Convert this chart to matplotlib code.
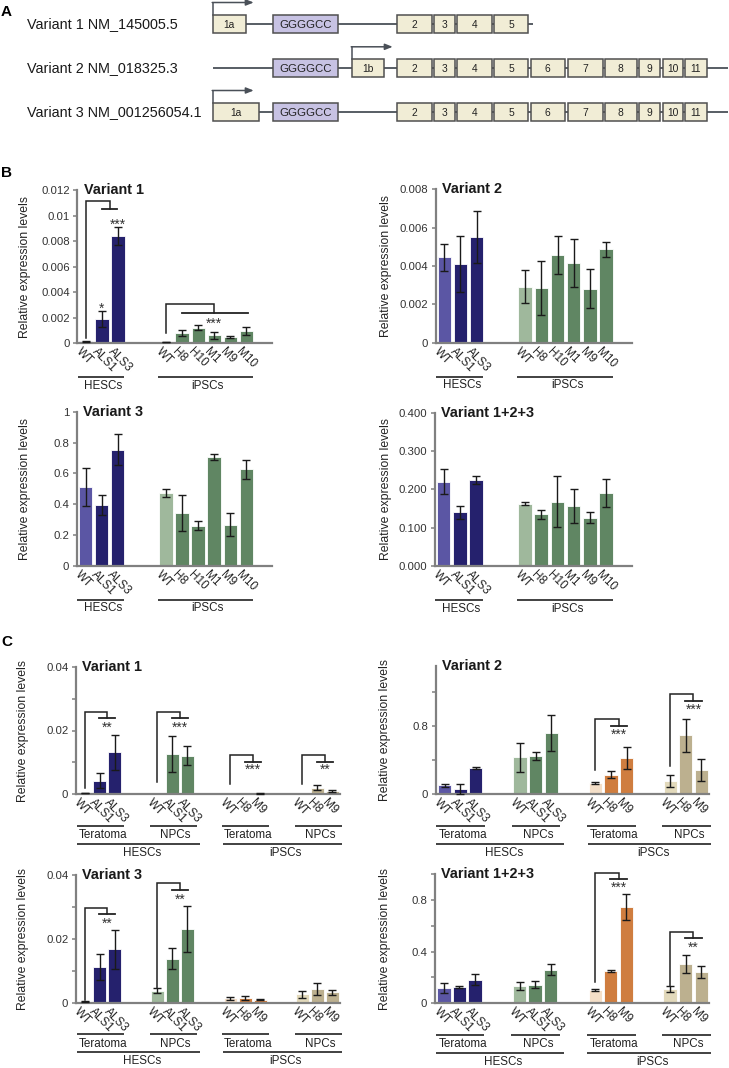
import matplotlib
matplotlib.use("Agg")
import matplotlib.pyplot as plt
import matplotlib.transforms as mtransforms
from matplotlib.patches import Rectangle

plt.rcParams["font.family"] = ["Liberation Sans", "DejaVu Sans"]

# ======================= DATA =======================
# ---- Panel A: transcript schematics (schematic coordinates) ----
variant_names = ["Variant 1 NM_145005.5", "Variant 2 NM_018325.3", "Variant 3 NM_001256054.1"]
core_exon_names = ["2", "3", "4", "5", "6", "7", "8", "9", "10", "11"]
core_exon_start = [396.7, 434, 457.3, 494, 530.7, 568.3, 605, 639.3, 662.7, 685]
core_exon_end = [431.7, 455, 491.7, 528.3, 565, 602.7, 636.7, 660, 682.7, 706.7]
v1_exon_names = ["1a", "GGGGCC"] + core_exon_names[:4]
v1_exon_start = [212.7, 272.7] + core_exon_start[:4]
v1_exon_end = [246, 338.3] + core_exon_end[:4]
v2_exon_names = ["GGGGCC", "1b"] + core_exon_names
v2_exon_start = [272.7, 351.7] + core_exon_start
v2_exon_end = [338.3, 384.3] + core_exon_end
v3_exon_names = ["1a", "GGGGCC"] + core_exon_names
v3_exon_start = [212.7, 272.7] + core_exon_start
v3_exon_end = [259.3, 338.3] + core_exon_end
gene_span = [(212.7, 532.7), (213, 728), (212.7, 728)]
tss = [212.7, 351.7, 212.7]

# ---- Panel B ----
b_hesc_labels = ["WT", "ALS1", "ALS3"]
b_ipsc_labels = ["WT", "H8", "H10", "M1", "M9", "M10"]

bv1_hesc = [0.00015, 0.0019, 0.0084]
bv1_hesc_err = [0.00003, 0.0006, 0.0007]
bv1_ipsc = [0.0001, 0.00083, 0.00123, 0.00063, 0.00047, 0.00097]
bv1_ipsc_err = [0.00001, 0.00023, 0.00017, 0.00026, 0.00009, 0.0003]

bv2_hesc = [0.00445, 0.0041, 0.00551]
bv2_hesc_err = [0.0007, 0.00145, 0.00137]
bv2_ipsc = [0.00292, 0.00287, 0.00457, 0.00414, 0.00282, 0.00487]
bv2_ipsc_err = [0.00086, 0.0014, 0.00098, 0.00125, 0.00103, 0.00038]

bv3_hesc = [0.512, 0.395, 0.755]
bv3_hesc_err = [0.124, 0.062, 0.101]
bv3_ipsc = [0.473, 0.343, 0.260, 0.707, 0.267, 0.627]
bv3_ipsc_err = [0.026, 0.119, 0.03, 0.02, 0.074, 0.062]

bvall_hesc = [0.220, 0.140, 0.225]
bvall_hesc_err = [0.033, 0.017, 0.01]
bvall_ipsc = [0.163, 0.135, 0.168, 0.157, 0.126, 0.190]
bvall_ipsc_err = [0.005, 0.012, 0.066, 0.045, 0.014, 0.037]

# ---- Panel C ----
c_hesc_labels = ["WT", "ALS1", "ALS3"]
c_ipsc_labels = ["WT", "H8", "M9"]
c_subgroups = ["Teratoma", "NPCs", "Teratoma", "NPCs"]
c_groups = ["HESCs", "iPSCs"]

cv1_hesc_ter = [0.0004, 0.0043, 0.0132]
cv1_hesc_ter_err = [0.0001, 0.0024, 0.0055]
cv1_hesc_npc = [0.0, 0.0126, 0.0121]
cv1_hesc_npc_err = [0.0, 0.0057, 0.003]
cv1_ipsc_ter = [0.0, 0.0, 0.0003]
cv1_ipsc_ter_err = [0.0, 0.0, 0.0001]
cv1_ipsc_npc = [0.0, 0.002, 0.001]
cv1_ipsc_npc_err = [0.0, 0.0008, 0.0004]

cv2_hesc_ter = [0.106, 0.059, 0.31]
cv2_hesc_ter_err = [0.018, 0.06, 0.01]
cv2_hesc_npc = [0.435, 0.451, 0.714]
cv2_hesc_npc_err = [0.17, 0.045, 0.21]
cv2_ipsc_ter = [0.137, 0.231, 0.427]
cv2_ipsc_ter_err = [0.012, 0.044, 0.13]
cv2_ipsc_npc = [0.157, 0.69, 0.286]
cv2_ipsc_npc_err = [0.07, 0.19, 0.13]

cv3_hesc_ter = [0.0003, 0.0112, 0.0168]
cv3_hesc_ter_err = [0.0001, 0.004, 0.0061]
cv3_hesc_npc = [0.0038, 0.0137, 0.023]
cv3_hesc_npc_err = [0.0007, 0.0033, 0.0072]
cv3_ipsc_ter = [0.0014, 0.0016, 0.001]
cv3_ipsc_ter_err = [0.0004, 0.0006, 0.0002]
cv3_ipsc_npc = [0.0026, 0.0043, 0.0032]
cv3_ipsc_npc_err = [0.001, 0.0018, 0.0007]

cvall_hesc_ter = [0.117, 0.125, 0.182]
cvall_hesc_ter_err = [0.039, 0.005, 0.044]
cvall_hesc_npc = [0.135, 0.145, 0.26]
cvall_hesc_npc_err = [0.03, 0.024, 0.041]
cvall_ipsc_ter = [0.104, 0.249, 0.745]
cvall_ipsc_ter_err = [0.01, 0.005, 0.099]
cvall_ipsc_npc = [0.109, 0.304, 0.242]
cvall_ipsc_npc_err = [0.025, 0.072, 0.045]

# ======================= STYLE / LAYOUT =======================
W, H = 729, 1068
GRAY = "#808080"
DARK = "#222222"
LINE = "#4a5058"
HESC_WT = "#5b56a4"
NAVY = "#25216d"
SAGE = "#9fb89c"
GREEN = "#608663"
PEACH = "#f4dfc8"
ORANGE = "#cf7d3f"
BEIGE = "#e2d9bb"
TAN = "#bcb08f"
EXON_FILL = "#f1edd6"
REPEAT_FILL = "#c7c2e3"

fig = plt.figure(figsize=(W / 100, H / 100), dpi=100)


def make_ax(l, t, r, b):
    return fig.add_axes([l / W, 1 - b / H, (r - l) / W, (b - t) / H])


def below(ax, px):
    return ax.get_xaxis_transform() + mtransforms.ScaledTranslation(0, -px / 100, fig.dpi_scale_trans)


# ======================= PANEL A =======================
axA = fig.add_axes([0, 1 - 175 / H, 1, 175 / H])
axA.set_xlim(0, W)
axA.set_ylim(175, 0)
axA.axis("off")
row_y = [24, 68.3, 112]
box_h = 18
exon_sets = [(v1_exon_names, v1_exon_start, v1_exon_end),
             (v2_exon_names, v2_exon_start, v2_exon_end),
             (v3_exon_names, v3_exon_start, v3_exon_end)]
for yc, name, (names, starts, ends), span, t in zip(row_y, variant_names, exon_sets, gene_span, tss):
    axA.text(27, yc, name, fontsize=10.4, ha="left", va="center", color="#1a1a1a")
    axA.plot(span, [yc, yc], color=LINE, lw=1.3, zorder=1, solid_capstyle="butt")
    for nm, s, e in zip(names, starts, ends):
        fc = REPEAT_FILL if nm == "GGGGCC" else EXON_FILL
        axA.add_patch(Rectangle((s, yc - box_h / 2), e - s, box_h, facecolor=fc,
                                edgecolor="#505050", lw=1.1, zorder=2))
        axA.text((s + e) / 2, yc + 0.5, nm, fontsize=8.2 if nm == "GGGGCC" else 7.4,
                 ha="center", va="center", color="#222", zorder=3)
    top = yc - box_h / 2 - 12.5
    axA.plot([t, t], [yc - box_h / 2, top], color=LINE, lw=1.1, zorder=1)
    axA.annotate("", xy=(t + 41, top), xytext=(t - 0.5, top),
                 arrowprops=dict(arrowstyle="-|>,head_length=0.45,head_width=0.18",
                                 color=LINE, lw=1.1, shrinkA=0, shrinkB=0))

# ======================= BAR PANEL HELPERS =======================
def style_ax(ax, xlim, ylim, ticks, ticklabels, title):
    ax.set_xlim(*xlim)
    ax.set_ylim(*ylim)
    ax.patch.set_alpha(0)
    for s in ("top", "right"):
        ax.spines[s].set_visible(False)
    for s in ("left", "bottom"):
        ax.spines[s].set_color(GRAY)
        ax.spines[s].set_linewidth(1.6)
    ax.set_xticks([])
    ax.set_yticks(ticks)
    ax.set_yticklabels(ticklabels)
    ax.tick_params(axis="y", length=3, width=1.1, color=GRAY, labelsize=8.2,
                   pad=2.5, labelcolor="#333")
    ax.annotate(title, xy=(0, 1), xycoords="axes fraction", xytext=(4.5, 0),
                textcoords="offset points", fontsize=10.4, fontweight="bold",
                ha="left", va="center", color="#1a1a1a")


def ylabel(ax, x_px):
    bb = ax.get_position()
    fig.text(x_px / W, bb.y0 + bb.height / 2, "Relative expression levels", rotation=90,
             fontsize=8.8, ha="center", va="center", color="#222")


def draw_group(ax, start, labels, vals, errs, cols, width):
    xs = [start + i for i in range(len(vals))]
    ax.bar(xs, vals, width=width, color=cols, edgecolor="white", linewidth=0.6, zorder=2)
    ex = [x for x, e in zip(xs, errs) if e > 0]
    ev = [v for v, e in zip(vals, errs) if e > 0]
    ee = [e for e in errs if e > 0]
    if ex:
        ax.errorbar(ex, ev, yerr=ee, fmt="none", ecolor="#1a1a1a", elinewidth=1.0,
                    capsize=2.6, capthick=1.0, zorder=3, clip_on=False)
    for x, lab in zip(xs, labels):
        ax.annotate(lab, xy=(x, 0), xycoords=ax.get_xaxis_transform(), xytext=(-2.8, -1.8),
                    textcoords="offset points", rotation=-45, rotation_mode="anchor",
                    ha="left", va="top", fontsize=8.5, color="#222", annotation_clip=False)


def hline(ax, x0, x1, dy, lw=1.3):
    ax.plot([x0, x1], [0, 0], transform=below(ax, dy), color="#333", lw=lw,
            clip_on=False, solid_capstyle="butt")


def htext(ax, x, dy, s):
    ax.text(x, 0, s, transform=below(ax, dy), fontsize=8.4, ha="center", va="center",
            color="#222", clip_on=False)


def bracket(ax, x0, xm, xl, xr, y0, ytop, ydrop, stars=None, ystar=None):
    ax.plot([x0, x0, xm, xm], [y0, ytop, ytop, ydrop], color=DARK, lw=1.1,
            clip_on=False, zorder=4, solid_joinstyle="miter")
    ax.plot([xl, xr], [ydrop, ydrop], color=DARK, lw=1.3, clip_on=False, zorder=4)
    if stars:
        star(ax, xm, ystar, stars)


def star(ax, x, y, s):
    ax.annotate(s, xy=(x, y), xytext=(0, -5.6), textcoords="offset points", fontsize=9.8,
                ha="center", va="baseline", color="#333", annotation_clip=False)


# ======================= PANEL B =======================
B_XLIM = (-0.53, 11.6)
B_W = 0.83
hesc_cols_b = [HESC_WT, NAVY, NAVY]
ipsc_cols_b = [SAGE] + [GREEN] * 5

b_specs = [
    ((77.3, 190, 272, 343.3), 25, bv1_hesc, bv1_hesc_err, bv1_ipsc, bv1_ipsc_err, (0, 0.012),
     [0, 0.002, 0.004, 0.006, 0.008, 0.01, 0.012], ["0", "0.002", "0.004", "0.006", "0.008", "0.01", "0.012"],
     "Variant 1"),
    ((435.7, 189.3, 632, 342.7), 386, bv2_hesc, bv2_hesc_err, bv2_ipsc, bv2_ipsc_err, (0, 0.008),
     [0, 0.002, 0.004, 0.006, 0.008], ["0", "0.002", "0.004", "0.006", "0.008"], "Variant 2"),
    ((77, 412, 272, 565.7), 25, bv3_hesc, bv3_hesc_err, bv3_ipsc, bv3_ipsc_err, (0, 1.0),
     [0, 0.2, 0.4, 0.6, 0.8, 1.0], ["0", "0.2", "0.4", "0.6", "0.8", "1"], "Variant 3"),
    ((435, 412.7, 632, 566), 386, bvall_hesc, bvall_hesc_err, bvall_ipsc, bvall_ipsc_err, (0, 0.4),
     [0, 0.1, 0.2, 0.3, 0.4], ["0.000", "0.100", "0.200", "0.300", "0.400"], "Variant 1+2+3"),
]
b_axes = []
for rect, ylx, hv, he, iv, ie, ylim, ticks, tl, title in b_specs:
    ax = make_ax(*rect)
    style_ax(ax, B_XLIM, ylim, ticks, tl, title)
    draw_group(ax, 0, b_hesc_labels, hv, he, hesc_cols_b, B_W)
    draw_group(ax, 5, b_ipsc_labels, iv, ie, ipsc_cols_b, B_W)
    hline(ax, -0.5, 2.4, 34)
    hline(ax, 4.5, 10.4, 34)
    htext(ax, 1.1, 42.5, "HESCs")
    htext(ax, 7.6, 42.5, "iPSCs")
    ylabel(ax, ylx)
    b_axes.append(ax)

# significance for B Variant 1
axb1 = b_axes[0]
bracket(axb1, 0, 1.5, 1.0, 1.95, 0.0004, 0.01117, 0.01049)
star(axb1, 1, 0.0030, "*")
star(axb1, 2, 0.00957, "***")
bracket(axb1, 5, 8, 6, 10.1, 0.00078, 0.00305, 0.00235, "***", 0.00183)

# ======================= PANEL C =======================
C_XLIM = (-0.57, 17.0)
C_W = 0.85
c_starts = [0, 4.85, 9.7, 14.5]
c_cols = [[HESC_WT, NAVY, NAVY], [SAGE, GREEN, GREEN], [PEACH, ORANGE, ORANGE], [BEIGE, TAN, TAN]]
c_labels = [c_hesc_labels, c_hesc_labels, c_ipsc_labels, c_ipsc_labels]

c_specs = [
    ((76, 666.7, 340, 794.3), 23.5,
     [cv1_hesc_ter, cv1_hesc_npc, cv1_ipsc_ter, cv1_ipsc_npc],
     [cv1_hesc_ter_err, cv1_hesc_npc_err, cv1_ipsc_ter_err, cv1_ipsc_npc_err],
     (0, 0.04), [0, 0.01, 0.02, 0.03, 0.04], ["0", "", "0.02", "", "0.04"], "Variant 1",
     [(0, 0.0019, 0.0259, 0.0238, 0.0219, "**"), (1, 0.0037, 0.0259, 0.0238, 0.0219, "***"),
      (2, 0.0032, 0.0123, 0.0102, 0.0089, "***"), (3, 0.0032, 0.0123, 0.0102, 0.0089, "**")]),
    ((435.7, 666, 709, 794.3), 384.7,
     [cv2_hesc_ter, cv2_hesc_npc, cv2_ipsc_ter, cv2_ipsc_npc],
     [cv2_hesc_ter_err, cv2_hesc_npc_err, cv2_ipsc_ter_err, cv2_ipsc_npc_err],
     (0, 1.5), [0, 0.4, 0.8, 1.2], ["0", "", "0.8", ""], "Variant 2",
     [(2, 0.286, 0.875, 0.796, 0.737, "***"), (3, 0.333, 1.169, 1.09, 1.031, "***")]),
    ((76, 875, 340, 1002.7), 23.5,
     [cv3_hesc_ter, cv3_hesc_npc, cv3_ipsc_ter, cv3_ipsc_npc],
     [cv3_hesc_ter_err, cv3_hesc_npc_err, cv3_ipsc_ter_err, cv3_ipsc_npc_err],
     (0, 0.04), [0, 0.01, 0.02, 0.03, 0.04], ["0", "", "0.02", "", "0.04"], "Variant 3",
     [(0, 0.0008, 0.0298, 0.0278, 0.0259, "**"), (1, 0.0047, 0.0374, 0.0353, 0.0335, "**")]),
    ((435, 874, 709, 1003.3), 384.7,
     [cvall_hesc_ter, cvall_hesc_npc, cvall_ipsc_ter, cvall_ipsc_npc],
     [cvall_hesc_ter_err, cvall_hesc_npc_err, cvall_ipsc_ter_err, cvall_ipsc_npc_err],
     (0, 1.0), [0, 0.2, 0.4, 0.6, 0.8, 1.0], ["0", "", "0.4", "", "0.8", ""], "Variant 1+2+3",
     [(2, 0.161, 1.008, 0.961, 0.922, "***"), (3, 0.135, 0.551, 0.504, 0.462, "**")]),
]
for rect, ylx, vals, errs, ylim, ticks, tl, title, brs in c_specs:
    ax = make_ax(*rect)
    style_ax(ax, C_XLIM, ylim, ticks, tl, title)
    for st, labs, v, e, cols in zip(c_starts, c_labels, vals, errs, c_cols):
        draw_group(ax, st, labs, v, e, cols, C_W)
        hline(ax, st - 0.52, st + 2.6, 31.5)
    for st, sg in zip(c_starts, c_subgroups):
        htext(ax, st + 1.2, 41, sg)
    hline(ax, c_starts[0] - 0.53, c_starts[1] + 2.85, 49.5)
    hline(ax, c_starts[2] - 0.5, c_starts[3] + 2.6, 49.5)
    htext(ax, (c_starts[0] + c_starts[1]) / 2 + 1.4, 58.5, c_groups[0])
    htext(ax, (c_starts[2] + c_starts[3]) / 2 + 1.3, 58.5, c_groups[1])
    for gi, y0, ytop, ydrop, ys, s in brs:
        st = c_starts[gi]
        bracket(ax, st, st + 1.5, st + 0.97, st + 2.02, y0, ytop, ydrop, s, ys)
    ylabel(ax, ylx)

# ======================= PANEL LETTERS =======================
for letter, (xp, yp) in zip(["A", "B", "C"], [(6, 12.5), (6.7, 173), (6.7, 642)]):
    fig.text(xp / W, 1 - yp / H, letter, fontsize=11, fontweight="bold", ha="center", va="center")

fig.savefig("out.png", dpi=100)
